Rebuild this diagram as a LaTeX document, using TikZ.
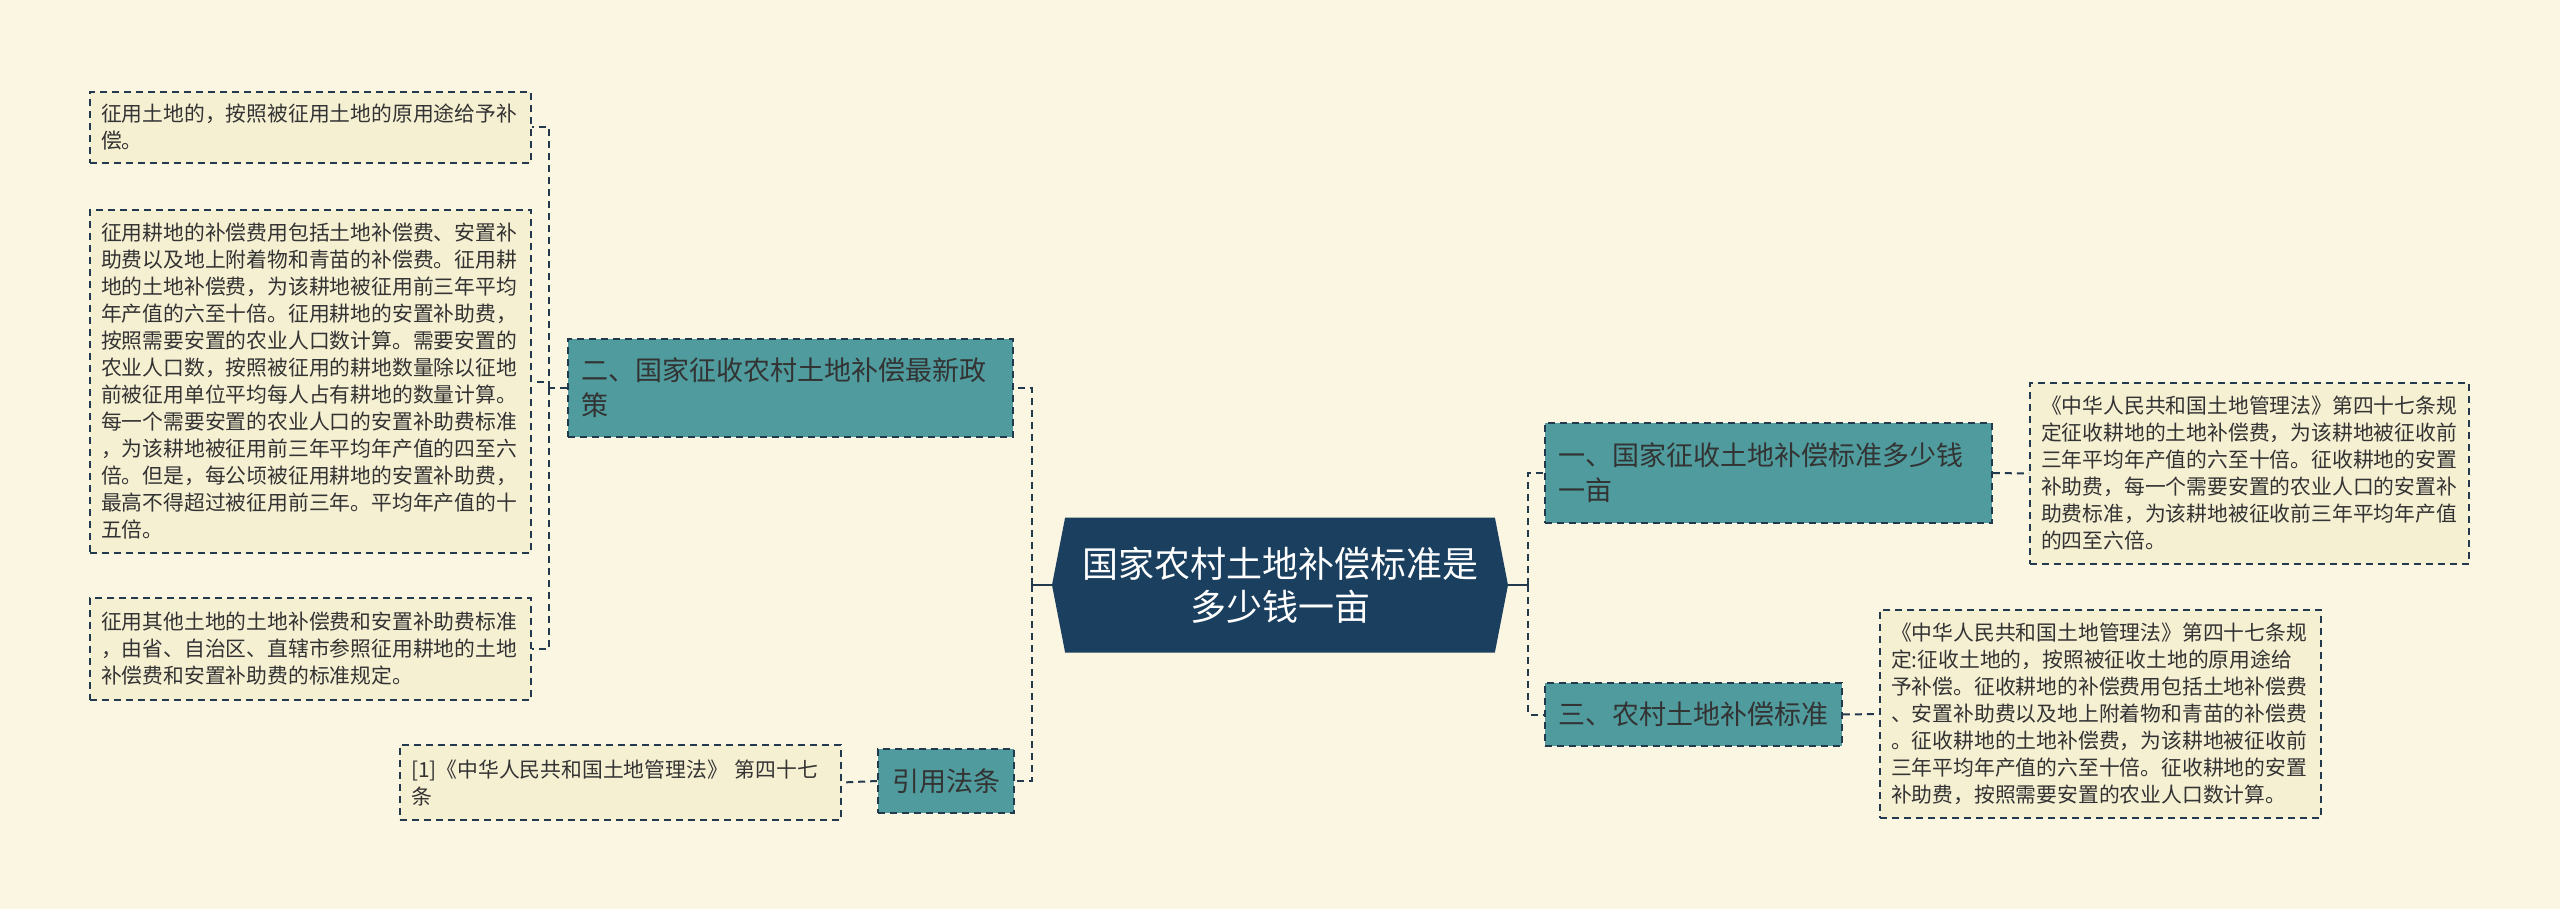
\documentclass[tikz,border=0pt]{standalone}
\usepackage{fontspec}
\newfontfamily\cjk{Noto Sans CJK SC}
\usetikzlibrary{shapes.symbols}
\definecolor{paper}{HTML}{FBF6E2}
\definecolor{leaffill}{HTML}{F6F0D3}
\definecolor{branchfill}{HTML}{4F9B9D}
\definecolor{rootfill}{HTML}{1B3F5F}
\definecolor{edgecol}{HTML}{22394E}
\begin{document}
\begin{tikzpicture}[x=1pt,y=-1pt,
  leaf/.style={draw=edgecol,line width=1.6pt,dash pattern=on 7pt off 5pt,fill=leaffill,
    text=black!80,font=\cjk\fontsize{20.8}{27}\selectfont,align=left,inner xsep=11pt,inner ysep=0pt},
  branch/.style={draw=edgecol,line width=1.6pt,dash pattern=on 7pt off 5pt,fill=branchfill,
    text=black!80,font=\cjk\fontsize{27}{35}\selectfont,align=left,inner xsep=13pt,inner ysep=0pt},
  rootbox/.style={signal,signal to=west and east,signal pointer angle=158,fill=rootfill,
    text=white,font=\cjk\fontsize{36}{43}\selectfont,align=center,minimum width=456,minimum height=135},
  link/.style={draw=edgecol,line width=2.4pt},
  dlink/.style={draw=edgecol,line width=2pt,dash pattern=on 7pt off 5pt}]
  \useasboundingbox[fill=paper] (0,0) rectangle (2560,909);
  % centre
  \node[rootbox] (root) at (1280,585) {国家农村土地补偿标准是\\多少钱一亩};
  % left side
  \node[branch,text width=419,minimum height=98] (policy) at (790.5,388) {二、国家征收农村土地补偿最新政\\策};
  \node[branch,minimum width=136,minimum height=64,align=center,inner xsep=0pt] (cite) at (946,781) {引用法条};
  \node[leaf,text width=419,minimum height=71] (use) at (310.5,127.5) {征用土地的，按照被征用土地的原用途给予补\\偿。};
  \node[leaf,text width=419,minimum height=343] (farm) at (310.5,381.5) {征用耕地的补偿费用包括土地补偿费、安置补\\助费以及地上附着物和青苗的补偿费。征用耕\\地的土地补偿费，为该耕地被征用前三年平均\\年产值的六至十倍。征用耕地的安置补助费，\\按照需要安置的农业人口数计算。需要安置的\\农业人口数，按照被征用的耕地数量除以征地\\前被征用单位平均每人占有耕地的数量计算。\\每一个需要安置的农业人口的安置补助费标准\\，为该耕地被征用前三年平均年产值的四至六\\倍。但是，每公顷被征用耕地的安置补助费，\\最高不得超过被征用前三年。平均年产值的十\\五倍。};
  \node[leaf,text width=419,minimum height=102] (other) at (310.5,649) {征用其他土地的土地补偿费和安置补助费标准\\，由省、自治区、直辖市参照征用耕地的土地\\补偿费和安置补助费的标准规定。};
  \node[leaf,text width=419,minimum height=75] (law) at (620.5,782.5) {[1]《中华人民共和国土地管理法》 第四十七\\条};
  % right side
  \node[branch,text width=421,minimum height=100] (std) at (1768.5,473) {一、国家征收土地补偿标准多少钱\\一亩};
  \node[branch,text width=271,minimum height=63] (rural) at (1693.5,714.5) {三、农村土地补偿标准};
  \node[leaf,text width=417,minimum height=181] (art1) at (2249.5,473.5) {《中华人民共和国土地管理法》第四十七条规\\定征收耕地的土地补偿费，为该耕地被征收前\\三年平均年产值的六至十倍。征收耕地的安置\\补助费，每一个需要安置的农业人口的安置补\\助费标准，为该耕地被征收前三年平均年产值\\的四至六倍。};
  \node[leaf,text width=419,minimum height=208] (art3) at (2100.5,714) {《中华人民共和国土地管理法》第四十七条规\\定:征收土地的，按照被征收土地的原用途给\\予补偿。征收耕地的补偿费用包括土地补偿费\\、安置补助费以及地上附着物和青苗的补偿费\\。征收耕地的土地补偿费，为该耕地被征收前\\三年平均年产值的六至十倍。征收耕地的安置\\补助费，按照需要安置的农业人口数计算。};
  % connectors
  \coordinate (lspine) at (1032,585);
  \coordinate (rspine) at (1528,585);
  \coordinate (pspine) at (549,388);
  \draw[link] (root.west) -- (lspine);
  \draw[link] (root.east) -- (rspine);
  \draw[dlink] (lspine) |- (policy.east);
  \draw[dlink] (lspine) |- (cite.east);
  \draw[dlink] (rspine) |- (std.west);
  \draw[dlink] (rspine) |- (rural.west);
  \draw[dlink] (policy.west) -- (pspine);
  \draw[dlink] (pspine) |- (use.east);
  \draw[dlink] (pspine) |- (farm.east);
  \draw[dlink] (pspine) |- (other.east);
  \draw[dlink] (cite.west) -- (law.east);
  \draw[dlink] (std.east) -- (art1.west);
  \draw[dlink] (rural.east) -- (art3.west);
\end{tikzpicture}
\end{document}
